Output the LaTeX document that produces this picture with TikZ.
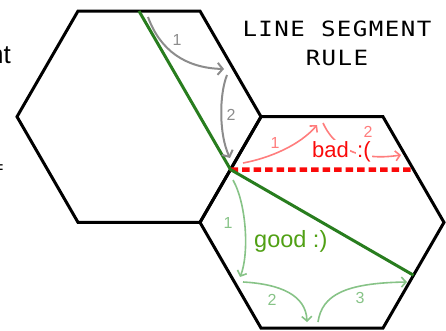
\documentclass[tikz,border=0pt]{standalone}
\usepackage{fontspec}
\setsansfont{Liberation Sans}
\newfontfamily\titlefont[LetterSpace=6]{DejaVu Sans Mono}
\usetikzlibrary{arrows.meta,calc,shapes.geometric}
\definecolor{hex_color}{RGB}{0,0,0}
\definecolor{path_green}{RGB}{40,125,30}
\definecolor{bad_red}{RGB}{250,10,10}
\definecolor{step_grey}{RGB}{140,140,140}
\definecolor{step_pink}{RGB}{255,125,125}
\definecolor{step_green}{RGB}{135,195,135}
\definecolor{good_green}{RGB}{80,160,20}
\tikzset{
  hexcell/.style={
    draw=hex_color, line width=3pt, regular polygon, regular polygon sides=6,
    minimum size=244pt, inner sep=0pt, outer sep=0pt
  },
  pathline/.style={draw=path_green, line width=3pt},
  badline/.style={draw=bad_red, line width=4.5pt, dash pattern=on 7.5pt off 4pt},
  stepgrey/.style={draw=step_grey, line width=2pt, -{Straight Barb[length=5pt, width=12pt]}},
  steppink/.style={draw=step_pink, line width=1.6pt, -{Straight Barb[length=4.5pt, width=10pt]}},
  stepgreen/.style={draw=step_green, line width=1.6pt, -{Straight Barb[length=4.5pt, width=10pt]}},
  steplabel/.style={font=\fontsize{16}{16}\selectfont\sffamily, inner sep=0pt},
  cutlabel/.style={font=\fontsize{26}{30}\selectfont\sffamily, inner sep=0pt, anchor=base east},
  titletext/.style={font=\fontsize{21}{24}\selectfont\titlefont, inner sep=0pt, anchor=base,
    xscale=1.15, transform shape},
  verdict/.style={font=\fontsize{22}{26}\selectfont\sffamily, inner sep=1pt, anchor=base west, fill=white}
}

\begin{document}
\begin{tikzpicture}[x=1pt, y=1pt]
\useasboundingbox (0,0) rectangle (446,330);
\clip (0,0) rectangle (446,330);

\node[hexcell] (hexA) at (139,213.3) {};
\node[hexcell] (hexB) at (322,107.6) {};

\node[cutlabel] (cutA) at (11,266) {nt};
\node[cutlabel, font=\fontsize{18}{20}\selectfont\sffamily] (cutB) at (3.8,156.6) {=};

\node[titletext] (titleA) at (337,293) {LINE SEGMENT};
\node[titletext] (titleB) at (337,265) {RULE};

\draw[badline] (hexA.-30) -- (hexB.30);
\draw[pathline] (hexA.90) -- (hexA.-30) -- (hexB.-30);

\coordinate (grey1_start) at (148,313);
\coordinate (grey1_end) at (224,261);
\coordinate (grey2_start) at (227,255);
\coordinate (grey2_end) at (230,172);
\draw[stepgrey] (grey1_start) .. controls (160,280) and (185,262) .. (grey1_end);
\draw[stepgrey] (grey2_start) .. controls (219,235) and (219,195) .. (grey2_end);
\node[steplabel, text=step_grey] (greyA) at (177,290) {1};
\node[steplabel, text=step_grey] (greyB) at (231,215) {2};

\coordinate (pink1_start) at (243,167);
\coordinate (pink1_end) at (317,205);
\coordinate (pink2_start) at (323,207);
\coordinate (pink2_end) at (401,175);
\draw[steppink] (pink1_start) .. controls (270,172) and (300,185) .. (pink1_end);
\draw[steppink] (pink2_start) .. controls (333,185) and (355,168) .. (pink2_end);
\node[steplabel, text=step_pink] (pinkA) at (275,187) {1};
\node[steplabel, text=step_pink] (pinkB) at (368,198) {2};
\node[verdict, text=bad_red] (badA) at (311,173) {bad};
\node[verdict, text=bad_red] (badB) at (356,173) {:(};

\coordinate (green1_start) at (233,150);
\coordinate (green1_end) at (240,53);
\coordinate (green2_start) at (243,48);
\coordinate (green2_end) at (307,8);
\coordinate (green3_start) at (318,8);
\coordinate (green3_end) at (407,48);
\draw[stepgreen] (green1_start) .. controls (247,125) and (249,75) .. (green1_end);
\draw[stepgreen] (green2_start) .. controls (280,46) and (306,35) .. (green2_end);
\draw[stepgreen] (green3_start) .. controls (322,35) and (345,47) .. (green3_end);
\node[steplabel, text=step_green] (greenA) at (228,107) {1};
\node[steplabel, text=step_green] (greenB) at (272,30) {2};
\node[steplabel, text=step_green] (greenC) at (360,32) {3};
\node[verdict, fill=none, inner sep=0pt, text=good_green, font=\fontsize{23.5}{27}\selectfont\sffamily] (good) at (254,83) {good :)};

\end{tikzpicture}
\end{document}
